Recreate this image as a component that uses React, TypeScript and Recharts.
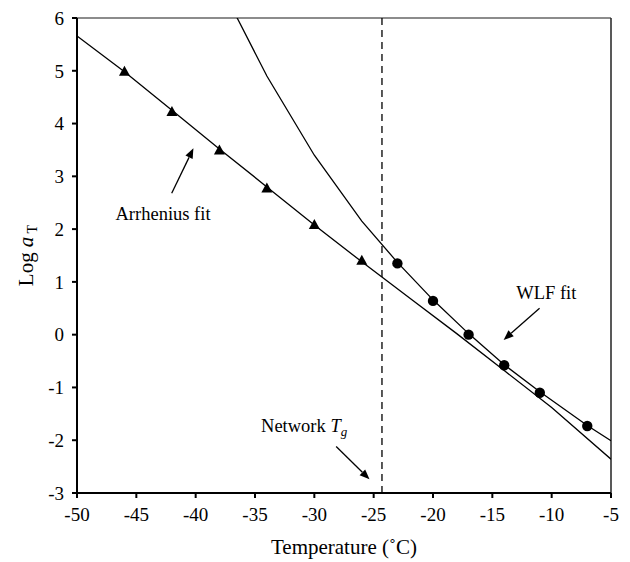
import { ComposedChart, Line, Scatter, XAxis, YAxis, ReferenceLine, ReferenceDot, Label } from 'recharts'

// measured points
const arrheniusData = [
  { t: -46, log: 4.98 },
  { t: -42, log: 4.22 },
  { t: -38, log: 3.49 },
  { t: -34, log: 2.77 },
  { t: -30, log: 2.08 },
  { t: -26, log: 1.4 },
]

const wlfData = [
  { t: -23, log: 1.35 },
  { t: -20, log: 0.64 },
  { t: -17, log: 0.0 },
  { t: -14, log: -0.58 },
  { t: -11, log: -1.1 },
  { t: -7, log: -1.73 },
]

// fitted curves
const arrheniusFit = [
  { t: -50, log: 5.66 },
  { t: -46, log: 4.98 },
  { t: -42, log: 4.25 },
  { t: -38, log: 3.52 },
  { t: -34, log: 2.8 },
  { t: -30, log: 2.08 },
  { t: -26, log: 1.38 },
  { t: -22, log: 0.7 },
  { t: -18, log: 0.02 },
  { t: -14, log: -0.68 },
  { t: -10, log: -1.38 },
  { t: -5, log: -2.36 },
]

const wlfFit = [
  { t: -38, log: 6.66 },
  { t: -34, log: 4.9 },
  { t: -30, log: 3.4 },
  { t: -26, log: 2.15 },
  { t: -23, log: 1.37 },
  { t: -20, log: 0.66 },
  { t: -17, log: 0.02 },
  { t: -14, log: -0.57 },
  { t: -11, log: -1.08 },
  { t: -7, log: -1.72 },
  { t: -5, log: -2.01 },
]

const xTicks = [-50, -45, -40, -35, -30, -25, -20, -15, -10, -5]
const yTicks = [-3, -2, -1, 0, 1, 2, 3, 4, 5, 6]

const networkTg = -24.3

const arrows = [
  { from: { x: -42.02, y: 2.68 }, to: { x: -40.19, y: 3.53 } },
  { from: { x: -11.02, y: 0.5 }, to: { x: -14.05, y: -0.1 } },
  { from: { x: -28.16, y: -2.12 }, to: { x: -25.35, y: -2.74 } },
]

const notes = [
  { x: -42.75, y: 2.29, text: 'Arrhenius fit', anchor: 'middle' },
  { x: -10.45, y: 0.79, text: 'WLF fit', anchor: 'middle' },
  { x: -34.49, y: -1.73, text: 'Network', anchor: 'start', sub: true },
]

const serif = 'Liberation Serif, Times New Roman, DejaVu Serif, serif'
const serifStyle = { fontFamily: serif }

const Arrow = (props: any) => {
  const { x1, y1, x2, y2 } = props
  const ang = Math.atan2(y2 - y1, x2 - x1)
  const len = 10
  const w = 4
  const bx = x2 - len * Math.cos(ang)
  const by = y2 - len * Math.sin(ang)
  const px = -Math.sin(ang) * w
  const py = Math.cos(ang) * w
  return (
    <g>
      <line x1={x1} y1={y1} x2={bx} y2={by} stroke="#000" strokeWidth={1.3} />
      <polygon points={`${x2},${y2} ${bx + px},${by + py} ${bx - px},${by - py}`} fill="#000" />
    </g>
  )
}

const Triangle = (props: any) => {
  const { cx, cy } = props
  return <polygon points={`${cx},${cy - 6} ${cx + 5.5},${cy + 4} ${cx - 5.5},${cy + 4}`} fill="#000" />
}

const Dot = (props: any) => {
  const { cx, cy } = props
  return <circle cx={cx} cy={cy} r={5.2} fill="#000" />
}

const noteShape = (n: any) => (props: any) => (
  <text x={props.cx} y={props.cy} dy="0.35em" textAnchor={n.anchor} style={serifStyle} fontSize={18.5} fill="#000">
    {n.text}
    {n.sub && (
      <>
        {' '}
        <tspan fontStyle="italic">T</tspan>
        <tspan fontStyle="italic" fontSize={13} dy={4}>g</tspan>
      </>
    )}
  </text>
)

const YTitle = (props: any) => {
  const { viewBox } = props
  const cx = 26
  const cy = viewBox.y + viewBox.height / 2
  return (
    <text x={cx} y={cy} transform={`rotate(-90 ${cx} ${cy})`} textAnchor="middle" dy="0.35em" style={serifStyle} fontSize={21} fill="#000">
      Log <tspan fontStyle="italic">a</tspan>
      <tspan fontSize={14} dy={4}> T</tspan>
    </text>
  )
}

export default function App() {
  return (
    <div style={{ position: 'absolute', left: 0, top: 0, background: '#fff', fontFamily: serif }}>
      <ComposedChart width={630} height={562} margin={{ top: 18, right: 19, bottom: 0, left: 0 }} style={serifStyle}>
        <XAxis
          dataKey="t"
          type="number"
          domain={[-50, -5]}
          ticks={xTicks}
          allowDataOverflow
          height={69}
          tickSize={5}
          tickMargin={10}
          stroke="#000"
          strokeWidth={2}
          tick={{ fill: '#000', fontSize: 19, style: serifStyle }}
        >
          <Label value="Temperature (˚C)" position="insideBottom" offset={8} fill="#000" fontSize={21} style={serifStyle} />
        </XAxis>
        <YAxis
          dataKey="log"
          type="number"
          domain={[-3, 6]}
          ticks={yTicks}
          allowDataOverflow
          width={77}
          tickSize={5}
          tickMargin={8}
          stroke="#000"
          strokeWidth={2}
          tick={{ fill: '#000', fontSize: 19, style: serifStyle }}
          label={{ content: <YTitle /> }}
        />
        <ReferenceLine y={6} stroke="#666" strokeWidth={1.5} />
        <ReferenceLine x={-5} stroke="#222" strokeWidth={1.5} />
        <ReferenceLine x={networkTg} stroke="#000" strokeWidth={1.3} strokeDasharray="7 5" />
        <Line data={arrheniusFit} dataKey="log" type="linear" stroke="#000" strokeWidth={1.3} dot={false} activeDot={false} isAnimationActive={false} />
        <Line data={wlfFit} dataKey="log" type="linear" stroke="#000" strokeWidth={1.3} dot={false} activeDot={false} isAnimationActive={false} />
        <Scatter data={arrheniusData} dataKey="log" shape={<Triangle />} isAnimationActive={false} />
        <Scatter data={wlfData} dataKey="log" shape={<Dot />} isAnimationActive={false} />
        {arrows.map((a, i) => (
          <ReferenceLine
            key={`a${i}`}
            segment={[a.from, a.to]}
            shape={(p: any) => <Arrow {...p} />}
          />
        ))}
        {notes.map((n, i) => (
          <ReferenceDot key={`n${i}`} x={n.x} y={n.y} r={0} shape={noteShape(n)} />
        ))}
      </ComposedChart>
    </div>
  )
}
